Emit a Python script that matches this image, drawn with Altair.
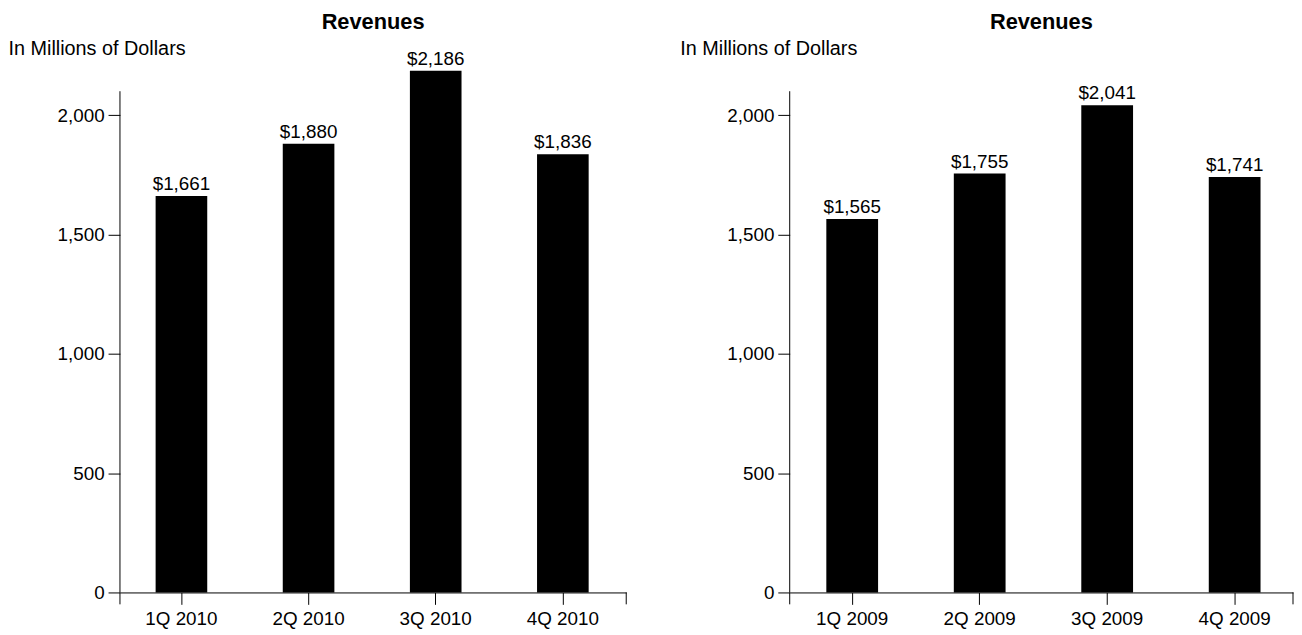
import altair as alt
import pandas as pd

quarters_2010 = ["1Q 2010", "2Q 2010", "3Q 2010", "4Q 2010"]
revenues_2010 = [1661, 1880, 2186, 1836]
quarters_2009 = ["1Q 2009", "2Q 2009", "3Q 2009", "4Q 2009"]
revenues_2009 = [1565, 1755, 2041, 1741]
y_ticks = [0, 500, 1000, 1500, 2000]
y_axis_top = 2100
y_domain = [0, 2200]
chart_title = "Revenues"
axis_title = "In Millions of Dollars"

FONT = "Liberation Sans"
H = 530


def panel(quarters, values, width, title_x, pad_outer, align):
    df = pd.DataFrame({
        "quarter": quarters,
        "revenue": values,
        "label": ["$" + f"{v:,}" for v in values],
    })
    xs = alt.Scale(domain=quarters, paddingInner=0.594, paddingOuter=pad_outer, align=align)
    ys = alt.Scale(domain=y_domain, nice=False, zero=True)
    x = alt.X("quarter:N", sort=quarters, scale=xs,
              axis=alt.Axis(title=None, labelAngle=0, domain=True, domainColor="black",
                            domainWidth=1, ticks=True, tickColor="black", tickSize=12,
                            labelPadding=5, labelFont=FONT, labelFontSize=19,
                            labelColor="black", grid=False))
    y = alt.Y("revenue:Q", scale=ys,
              axis=alt.Axis(values=y_ticks, format=",.0f", domain=False, ticks=True,
                            tickColor="black", tickSize=12, labelPadding=4, grid=False,
                            labelFont=FONT, labelFontSize=19, labelColor="black",
                            title=axis_title, titleAngle=0, titleAlign="left",
                            titleBaseline="alphabetic", titleX=title_x, titleY=-13,
                            titleFont=FONT, titleFontSize=20, titleFontWeight="normal",
                            titleColor="black"))
    base = alt.Chart(df).encode(x=x, y=y)
    bars = base.mark_bar(color="black")
    text = base.mark_text(baseline="alphabetic", dy=-6, font=FONT, fontSize=19,
                          color="black").encode(text="label:N")

    ydom = pd.DataFrame({"revenue": [0], "top": [y_axis_top]})
    yline = alt.Chart(ydom).mark_rule(color="black", strokeWidth=1).encode(
        x=alt.value(0), y=y, y2="top:Q")
    ends = pd.DataFrame({"revenue": [0]})
    tick_l = alt.Chart(ends).mark_rule(color="black", strokeWidth=1).encode(
        x=alt.value(0), y=y, y2=alt.value(H + 12))
    tick_r = alt.Chart(ends).mark_rule(color="black", strokeWidth=1).encode(
        x=alt.value(width), y=y, y2=alt.value(H + 12))

    return alt.layer(bars, text, yline, tick_l, tick_r).properties(
        width=width, height=H,
        title=alt.Title(chart_title, anchor="middle", frame="group", font=FONT,
                        fontSize=22, fontWeight="bold", color="black",
                        baseline="bottom", offset=-17),
    )


left = panel(quarters_2010, revenues_2010, 511, -113, 0.288, 0.487)
right = panel(quarters_2009, revenues_2009, 508, -111, 0.271, 0.53)

chart = alt.hconcat(left, right, spacing=53).properties(padding=0).configure_view(stroke=None)

chart.save("out.html", embed_options={"renderer": "svg", "actions": False})
